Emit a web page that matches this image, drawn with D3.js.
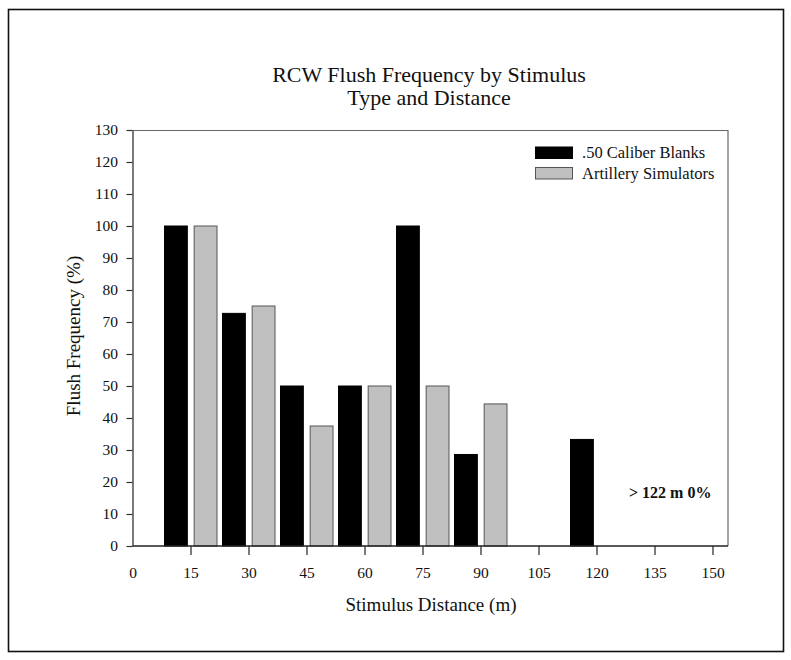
<!DOCTYPE html>
<html>
<head>
<meta charset="utf-8">
<script src="https://cdn.jsdelivr.net/npm/d3@7"></script>
<style>
  html, body { margin: 0; padding: 0; background: #fff; }
  svg { display: block; }
  text { font-family: "Liberation Serif", "DejaVu Serif", serif; fill: #111; }
</style>
</head>
<body>
<svg id="chart" width="791" height="660"></svg>
<script>
// ---- data ----
const distances = [15, 30, 45, 60, 75, 90, 105, 120];
const seriesNames = [".50 Caliber Blanks", "Artillery Simulators"];
const caliberBlanks = [100, 72.7, 50, 50, 100, 28.6, 0, 33.3];
const artillerySimulators = [100, 75, 37.5, 50, 50, 44.4, 0, 0];
const xTicks = [0, 15, 30, 45, 60, 75, 90, 105, 120, 135, 150];
const yTicks = [0, 10, 20, 30, 40, 50, 60, 70, 80, 90, 100, 110, 120, 130];
const titleLines = ["RCW Flush Frequency by Stimulus", "Type and Distance"];
const xTitle = "Stimulus Distance (m)";
const yTitle = "Flush Frequency (%)";
const note = "> 122 m 0%";

const svg = d3.select("#chart");

// outer frame
svg.append("rect").attr("x", 8.5).attr("y", 9.5).attr("width", 775).attr("height", 642)
  .attr("fill", "none").attr("stroke", "#111").attr("stroke-width", 1.6);

const plot = { left: 132.5, right: 728, top: 130, bottom: 546 };

const x = d3.scaleLinear().domain([0, 150]).range([132.5, 712.5]);
const y = d3.scaleLinear().domain([0, 130]).range([plot.bottom, plot.top]);

const sub = d3.scaleBand().domain(seriesNames).range([-26, 26.5]).paddingInner(0.23);
const colors = { ".50 Caliber Blanks": "#000", "Artillery Simulators": "#c0c0c0" };
const strokes = { ".50 Caliber Blanks": "#000", "Artillery Simulators": "#555" };

const rows = distances.map((d, i) => ({ d, vals: [caliberBlanks[i], artillerySimulators[i]] }));

// top and right border of plot
svg.append("line").attr("x1", plot.left).attr("x2", plot.right).attr("y1", plot.top + 0.5).attr("y2", plot.top + 0.5)
  .attr("stroke", "#666").attr("stroke-width", 1.2);
svg.append("line").attr("x1", plot.right).attr("x2", plot.right).attr("y1", plot.top).attr("y2", plot.bottom)
  .attr("stroke", "#666").attr("stroke-width", 1.2);

// bars
const g = svg.append("g");
rows.forEach(r => {
  seriesNames.forEach((s, j) => {
    const v = r.vals[j];
    if (v <= 0) return;
    g.append("rect")
      .attr("x", x(r.d) + sub(s))
      .attr("width", sub.bandwidth())
      .attr("y", y(v))
      .attr("height", y(0) - y(v))
      .attr("fill", colors[s])
      .attr("stroke", strokes[s])
      .attr("stroke-width", 1);
  });
});

// x axis
const xAxis = d3.axisBottom(x).tickValues(xTicks).tickSize(9).tickPadding(12).tickSizeOuter(0);
const xg = svg.append("g").attr("transform", `translate(0,${plot.bottom})`).call(xAxis);
xg.select(".domain").remove();
xg.append("line").attr("x1", plot.left).attr("x2", plot.right).attr("stroke", "#222").attr("stroke-width", 1.3);
xg.selectAll(".tick line").attr("stroke", "#222").attr("stroke-width", 1.2);
xg.selectAll(".tick").filter(d => d === 0).select("line").remove();
xg.selectAll(".tick text").attr("font-size", 15.5).attr("fill", "#111")
  .style("font-family", "'Liberation Serif', serif");

// y axis
const yAxis = d3.axisLeft(y).tickValues(yTicks).tickSize(6).tickPadding(8.5).tickSizeOuter(0);
const yg = svg.append("g").attr("transform", `translate(${plot.left},0)`).call(yAxis);
yg.select(".domain").attr("stroke", "#333").attr("stroke-width", 1.3);
yg.selectAll(".tick line").attr("stroke", "#333").attr("stroke-width", 1.2);
yg.selectAll(".tick text").attr("font-size", 15.5).attr("fill", "#111")
  .style("font-family", "'Liberation Serif', serif");

// title
svg.append("text").attr("x", 429).attr("y", 82).attr("text-anchor", "middle")
  .attr("font-size", 22).text(titleLines[0]);
svg.append("text").attr("x", 429).attr("y", 105).attr("text-anchor", "middle")
  .attr("font-size", 22).text(titleLines[1]);

// axis titles
svg.append("text").attr("x", 431).attr("y", 611).attr("text-anchor", "middle")
  .attr("font-size", 19).text(xTitle);
svg.append("text").attr("transform", "translate(80,336) rotate(-90)").attr("text-anchor", "middle")
  .attr("font-size", 19).text(yTitle);

// legend
const lg = svg.append("g");
seriesNames.forEach((s, i) => {
  const yy = 147 + i * 20.5;
  lg.append("rect").attr("x", 535.5).attr("y", yy).attr("width", 37).attr("height", 11.5)
    .attr("fill", colors[s]).attr("stroke", strokes[s]).attr("stroke-width", 1);
  lg.append("text").attr("x", 582).attr("y", yy + 11).attr("font-size", 16.5).text(s);
});

// note
svg.append("text").attr("x", 629).attr("y", 498).attr("font-size", 16).attr("font-weight", "bold").text(note);
</script>
</body>
</html>
